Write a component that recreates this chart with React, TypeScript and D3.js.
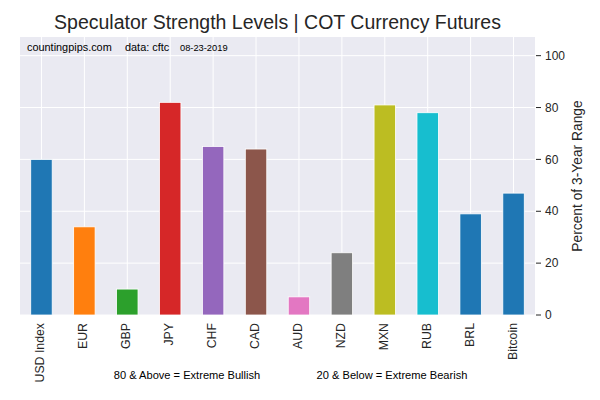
import React from "react";
import * as d3 from "d3";

const categories = ["USD Index", "EUR", "GBP", "JPY", "CHF", "CAD", "AUD", "NZD", "MXN", "RUB", "BRL", "Bitcoin"];
const values = [60, 34, 10, 82, 65, 64, 7, 24, 81, 78, 39, 47];
const colors = ["#1f77b4", "#ff7f0e", "#2ca02c", "#d62728", "#9467bd", "#8c564b", "#e377c2", "#7f7f7f", "#bcbd22", "#17becf", "#1f77b4", "#1f77b4"];
const yTicks = [0, 20, 40, 60, 80, 100];

const W = 600, H = 400;
const left = 20, right = 535, top = 37, bottom = 315;
const font = "Liberation Sans, Arial, sans-serif";

export default function App() {
  const x = d3.scaleBand<string>().domain(categories).range([left, right]).paddingInner(0.5).paddingOuter(0.25);
  const y = d3.scaleLinear().domain([0, 107.2]).range([bottom, top]);
  const bw = x.bandwidth();
  return (
    <svg width={W} height={H} style={{ position: "absolute", left: 0, top: 0, background: "#fff" }} fontFamily={font}>
      <rect x={left} y={top} width={right - left} height={bottom - top} fill="#EAEAF2" />
      {yTicks.map((t) => (
        <line key={"h" + t} x1={left} x2={right} y1={y(t)} y2={y(t)} stroke="#fff" strokeWidth={1} />
      ))}
      {categories.map((c) => (
        <line key={"v" + c} x1={x(c)! + bw / 2} x2={x(c)! + bw / 2} y1={top} y2={bottom} stroke="#fff" strokeWidth={1} />
      ))}
      {categories.map((c, i) => (
        <rect key={c} x={x(c)!} y={y(values[i])} width={bw} height={bottom - y(values[i])} fill={colors[i]} stroke="#fff" strokeWidth={0.8} />
      ))}
      {yTicks.map((t) => (
        <g key={"t" + t}>
          <line x1={right + 1} x2={right + 6} y1={y(t)} y2={y(t)} stroke="#262626" strokeWidth={1} />
          <text x={right + 10} y={y(t)} dy="0.35em" fontSize={12} fill="#262626">{t}</text>
        </g>
      ))}
      {categories.map((c) => (
        <text key={"l" + c} transform={`translate(${x(c)! + bw / 2 + 3},${bottom + 8}) rotate(-90)`} textAnchor="end" fontSize={12.3} fill="#262626">{c}</text>
      ))}
      <text x={577} y={(top + bottom) / 2} transform={`rotate(-90,577,${(top + bottom) / 2})`} textAnchor="middle" dy="0.35em" fontSize={13.8} fill="#262626">Percent of 3-Year Range</text>
      <text x={(left + right) / 2} y={29} textAnchor="middle" fontSize={19.5} fill="#262626">Speculator Strength Levels | COT Currency Futures</text>
      <text x={27} y={51} fontSize={10.9} fill="#000">countingpips.com</text>
      <text x={125} y={51} fontSize={10.9} fill="#000">data: cftc</text>
      <text x={180} y={51} fontSize={9.3} fill="#000">08-23-2019</text>
      <text x={187} y={379} textAnchor="middle" fontSize={11.1} fill="#000">80 &amp; Above = Extreme Bullish</text>
      <text x={392} y={379} textAnchor="middle" fontSize={11.1} fill="#000">20 &amp; Below = Extreme Bearish</text>
    </svg>
  );
}
